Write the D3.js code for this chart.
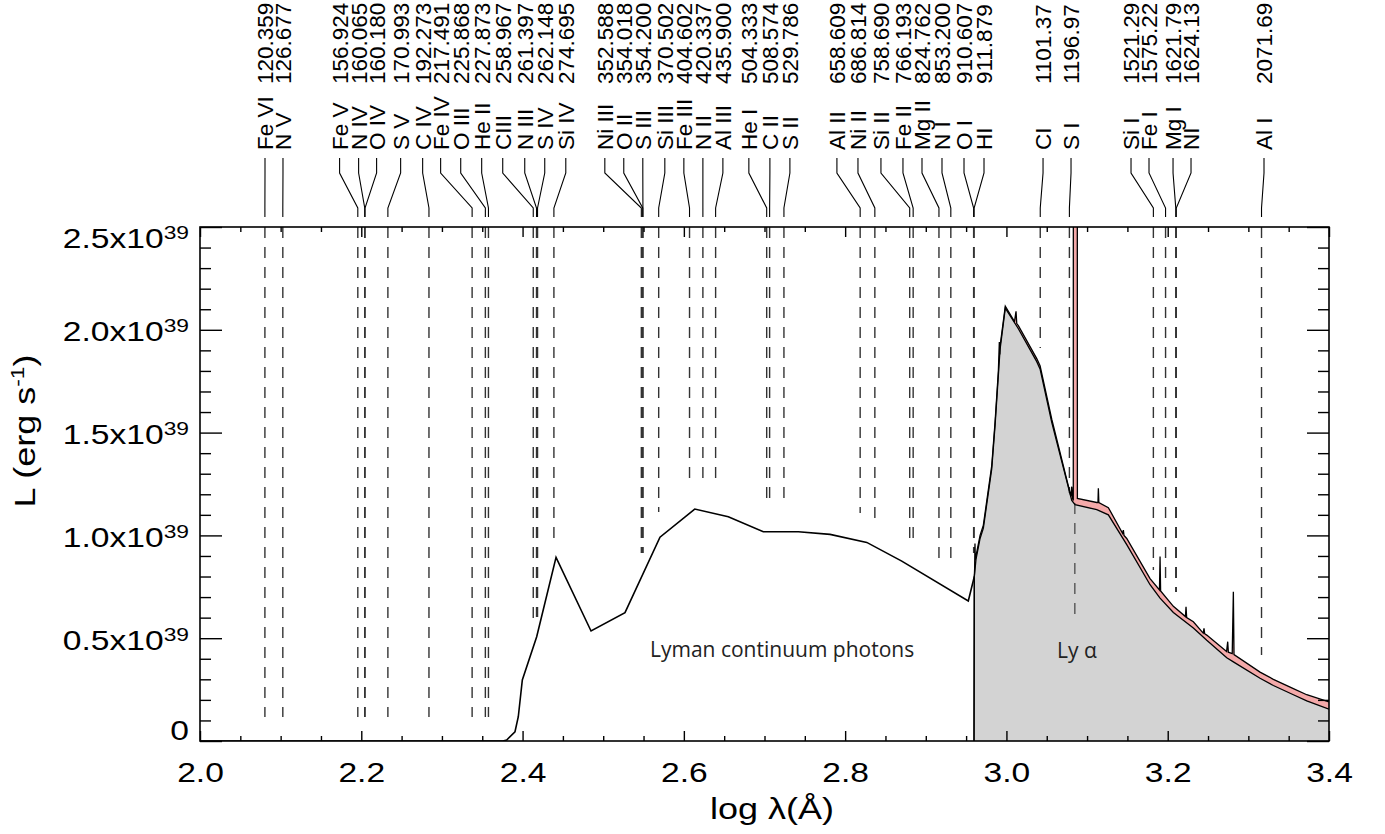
<!DOCTYPE html>
<html><head><meta charset="utf-8">
<script src="https://cdn.jsdelivr.net/npm/d3@7"></script>
<style>body{margin:0;background:#fff} svg{display:block}</style>
</head><body>
<svg id="c" width="1385" height="834"></svg>
<script>
// ---------------- data ----------------
const xTickValues = [2.0, 2.2, 2.4, 2.6, 2.8, 3.0, 3.2, 3.4];
const xTickLabels = ["2.0", "2.2", "2.4", "2.6", "2.8", "3.0", "3.2", "3.4"];
const yTickValues = [0, 0.5, 1.0, 1.5, 2.0, 2.5];
const yTickLabels = ["0", "0.5x10", "1.0x10", "1.5x10", "2.0x10", "2.5x10"];
const yTickExp = ["", "39", "39", "39", "39", "39"];

// Lyman continuum curve (log lambda, L in 1e39 erg/s)
const lymanLogLam = [2.0, 2.370, 2.3757, 2.3803, 2.3906, 2.3947, 2.3997, 2.4175, 2.4415, 2.4849, 2.5270, 2.5704, 2.6135, 2.6551, 2.6985, 2.7420, 2.7813, 2.8268, 2.8702, 2.9527, 2.9602];
const lymanL      = [0,   0,     0,      0.005,  0.045,  0.118,  0.297,  0.507,  0.893,  0.535,  0.624,  0.991,  1.128,  1.091,  1.018,  1.018,  1.005,  0.966,  0.875,  0.681,  0.800];

// continuum longward of 912 A (grey area)
const contLogLam = [2.9598, 2.9602, 2.9623, 2.9673, 2.9714, 2.9818, 2.9859, 2.9921, 2.9986, 3.0148, 3.0376, 3.0417, 3.0562, 3.0810, 3.0851, 3.1120, 3.1264, 3.1492, 3.1781, 3.1905, 3.2070, 3.2318, 3.2484, 3.2732, 3.2814, 3.3145, 3.3310, 3.3558, 3.3724, 3.4];
const contL      = [0,      0.80,   0.885,  0.985,  1.035,  1.325,  1.535,  1.905,  2.105,  2.005,  1.845,  1.810,  1.550,  1.170,  1.150,  1.125,  1.100,  0.955,  0.760,  0.695,  0.625,  0.550,  0.490,  0.405,  0.385,  0.305,  0.270,  0.225,  0.195,  0.155];

// continuum + emission lines (pink area)
const linesLogLam = [2.9598, 2.9602, 2.9606, 2.9610, 2.9614, 2.9623, 2.9673, 2.9714, 2.9818, 2.9859, 2.9900, 2.9912, 2.9918, 2.9921, 2.9986, 3.0100, 3.0119, 3.0128, 3.0148, 3.0376, 3.0417, 3.0562, 3.0800, 3.0810, 3.0820, 3.0829, 3.0831, 3.0877, 3.0880, 3.1120, 3.1135, 3.1140, 3.1146, 3.1264, 3.1440, 3.1450, 3.1458, 3.1492, 3.1781, 3.1898, 3.1905, 3.1912, 3.2070, 3.2220, 3.2227, 3.2235, 3.2318, 3.2440, 3.2450, 3.2458, 3.2484, 3.2730, 3.2744, 3.2752, 3.2800, 3.2814, 3.2822, 3.3145, 3.3310, 3.3558, 3.3724, 3.4];
const linesL      = [0,      0.80,   0.84,   0.96,   0.88,   0.90,   1.00,   1.05,   1.34,   1.55,   1.80,   1.94,   1.88,   1.92,   2.115,  2.04,   2.09,   2.03,   2.02,   1.86,   1.825,  1.565,  1.19,   1.237,  1.18,   1.17,   6.0,    6.0,    1.18,   1.16,   1.16,   1.229,  1.16,   1.135,  1.01,   1.026,  1.0,    0.985,  0.79,   0.735,  0.897,  0.73,   0.655,  0.605,  0.653,  0.60,   0.58,   0.525,  0.548,  0.522,  0.515,  0.435,  0.483,  0.432,  0.425,  0.726,  0.42,   0.335,  0.30,   0.255,  0.225,  0.19];

// identified lines
const lineIon = ["Fe VI","N V","Fe V","N IV","O IV","S V","C IV","Fe IV","O III","He II","CIII","N III","S IV","Si IV","Ni III","O II","S III","Si III","Fe III","N II","Al III","He I","C II","S II","Al II","Ni II","Si II","Fe II","Mg II","N I","O I","HI","CI","S I","Si I","Fe I","Mg I","NI","Al I"];
const lineWave = ["120.359","126.677","156.924","160.065","160.180","170.993","192.273","217.491","225.868","227.873","258.967","261.397","262.148","274.695","352.588","354.018","354.200","370.502","404.602","420.337","435.900","504.333","508.574","529.786","658.609","686.814","758.690","766.193","824.762","853.200","910.607","911.879","1101.37","1196.97","1521.29","1575.22","1621.79","1624.13","2071.69"];
// label column positions (in log lambda units of the x axis)
const lineLabelPos = [2.0806,2.1029,2.1731,2.1967,2.2190,2.2488,2.2761,2.2984,2.3233,2.3493,2.3754,2.4027,2.4275,2.4536,2.5020,2.5255,2.5491,2.5764,2.6000,2.6236,2.6484,2.6806,2.7067,2.7315,2.7898,2.8159,2.8444,2.8717,2.8953,2.9201,2.9474,2.9722,3.0454,3.0801,3.1545,3.1768,3.2066,3.2289,3.3194];
// lower end of the dashed marker lines (1e39 erg/s)
const lineDashEnd = [0.117,0.117,0.117,0.117,0.117,0.117,0.117,0.117,0.117,0.117,0.555,0.603,0.603,0.978,0.914,0.914,0.914,1.114,1.245,1.245,1.245,1.148,1.148,1.148,1.109,1.070,0.963,0.963,0.890,0.856,0.914,0.914,1.911,1.206,0.832,0.783,0.725,0.725,0.418];

const lyaWave = 1215.67;
const lyaDash = [1.158, 0.574];

// ---------------- drawing ----------------
const svg = d3.select("#c");
const PL = 200, PR = 1329, PT = 227, PB = 741;
const x = d3.scaleLinear().domain([2.0, 3.4]).range([PL, PR]);
const y = d3.scaleLinear().domain([0, 2.5]).range([PB, PT]);
const FONT = "'Liberation Sans', Arial, Helvetica, sans-serif";
const STRETCH = 1.2;

svg.append("defs").append("clipPath").attr("id", "plotclip")
  .append("rect").attr("x", PL).attr("y", PT).attr("width", PR - PL).attr("height", PB - PT);

const plot = svg.append("g").attr("clip-path", "url(#plotclip)");

const zip = (a, b) => a.map((v, i) => [v, b[i]]);
const contPts = zip(contLogLam, contL);
const linesPts = zip(linesLogLam, linesL);
const lymanPts = zip(lymanLogLam, lymanL);

const area = d3.area().x(d => x(d[0])).y0(y(0)).y1(d => y(d[1]));
const line = d3.line().x(d => x(d[0])).y(d => y(d[1]));

plot.append("path").attr("d", area(linesPts)).attr("fill", "#f4a9a9").attr("stroke", "none");
plot.append("path").attr("d", area(contPts)).attr("fill", "#d3d3d3").attr("stroke", "none");

// dashed marker lines
const lineLogLam = lineWave.map(w => Math.log10(+w));
plot.selectAll("line.mark").data(lineLogLam).enter().append("line")
  .attr("class", "mark")
  .attr("x1", d => x(d)).attr("x2", d => x(d))
  .attr("y1", y(2.5)).attr("y2", (d, i) => y(lineDashEnd[i]))
  .attr("stroke", "#333").attr("stroke-width", 1.4).attr("stroke-dasharray", "11,9");
plot.append("line")
  .attr("x1", x(Math.log10(lyaWave))).attr("x2", x(Math.log10(lyaWave)))
  .attr("y1", y(lyaDash[0])).attr("y2", y(lyaDash[1]))
  .attr("stroke", "#555").attr("stroke-width", 1.4).attr("stroke-dasharray", "11,9");

// outlines
plot.append("path").attr("d", line(linesPts)).attr("fill", "none").attr("stroke", "#000").attr("stroke-width", 1.3);
plot.append("path").attr("d", line(contPts)).attr("fill", "none").attr("stroke", "#000").attr("stroke-width", 1.3);
plot.append("path").attr("d", line(lymanPts)).attr("fill", "none").attr("stroke", "#000").attr("stroke-width", 1.6);

// frame
svg.append("rect").attr("x", PL).attr("y", PT).attr("width", PR - PL).attr("height", PB - PT)
  .attr("fill", "none").attr("stroke", "#000").attr("stroke-width", 1.6);

// ticks
const xMinor = d3.range(2.0, 3.4001, 0.05).filter(v => Math.abs(v * 5 - Math.round(v * 5)) > 1e-6);
const yMinor = d3.range(0, 2.5001, 0.1).filter(v => Math.abs(v * 2 - Math.round(v * 2)) > 1e-6);
function styleAxis(g) { g.select(".domain").remove(); g.selectAll("line").attr("stroke", "#000").attr("stroke-width", 1.4); }
svg.append("g").attr("transform", `translate(0,${PB})`).call(d3.axisBottom(x).tickValues(xTickValues).tickSize(-10).tickFormat("")).call(styleAxis);
svg.append("g").attr("transform", `translate(0,${PB})`).call(d3.axisBottom(x).tickValues(xMinor).tickSize(-5).tickFormat("")).call(styleAxis);
svg.append("g").attr("transform", `translate(0,${PT})`).call(d3.axisTop(x).tickValues(xTickValues).tickSize(-10).tickFormat("")).call(styleAxis);
svg.append("g").attr("transform", `translate(0,${PT})`).call(d3.axisTop(x).tickValues(xMinor).tickSize(-5).tickFormat("")).call(styleAxis);
svg.append("g").attr("transform", `translate(${PL},0)`).call(d3.axisLeft(y).tickValues(yTickValues).tickSize(-22).tickFormat("")).call(styleAxis);
svg.append("g").attr("transform", `translate(${PL},0)`).call(d3.axisLeft(y).tickValues(yMinor).tickSize(-11).tickFormat("")).call(styleAxis);
svg.append("g").attr("transform", `translate(${PR},0)`).call(d3.axisRight(y).tickValues(yTickValues).tickSize(-22).tickFormat("")).call(styleAxis);
svg.append("g").attr("transform", `translate(${PR},0)`).call(d3.axisRight(y).tickValues(yMinor).tickSize(-11).tickFormat("")).call(styleAxis);

// x tick labels
const xl = svg.append("g").attr("transform", `translate(0,${PB})`)
  .call(d3.axisBottom(x).tickValues(xTickValues).tickSize(0).tickFormat(""));
xl.select(".domain").remove();
xl.selectAll("g.tick").each(function (d, i) {
  d3.select(this).select("text")
    .attr("dy", null).attr("y", null)
    .attr("transform", `translate(0,41) scale(${STRETCH},1)`)
    .attr("font-family", FONT).attr("font-size", 28).attr("fill", "#000")
    .text(xTickLabels[i]);
});

// y tick labels with superscripts
const yl = svg.append("g").attr("transform", `translate(189,0)`)
  .call(d3.axisLeft(y).tickValues(yTickValues).tickSize(0).tickFormat(""));
yl.select(".domain").remove();
yl.selectAll("g.tick").each(function (d, i) {
  const t = d3.select(this).select("text");
  const off = i === 0 ? -2 : (i === 5 ? 20 : 11);
  t.attr("dy", null).attr("x", null).attr("y", null)
   .attr("transform", `translate(0,${off}) scale(${STRETCH},1)`)
   .attr("font-family", FONT).attr("font-size", 28).attr("fill", "#000").attr("text-anchor", "end");
  t.append("tspan").text(yTickLabels[i]);
  if (yTickExp[i]) t.append("tspan").attr("dy", -9).attr("font-size", 19).text(yTickExp[i]);
});

// axis titles
svg.append("text").attr("transform", `translate(772,819) scale(${STRETCH},1)`).attr("text-anchor", "middle")
  .attr("font-family", FONT).attr("font-size", 30).text("log λ(Å)");
const yt = svg.append("text").attr("transform", `translate(35,431) rotate(-90) scale(${STRETCH},1)`).attr("text-anchor", "middle")
  .attr("font-family", FONT).attr("font-size", 30);
yt.append("tspan").text("L (erg s");
yt.append("tspan").attr("dy", -11).attr("font-size", 19).text("-1");
yt.append("tspan").attr("dy", 11).text(")");

// line identification labels and leaders
const lab = svg.append("g").attr("font-family", FONT).attr("font-size", 22.5).attr("fill", "#000");
lineLogLam.forEach((ll, i) => {
  const lx = x(lineLabelPos[i]);
  const px = x(ll);
  lab.append("path")
    .attr("d", d3.line()([[lx, 158], [lx, 173], [px, 208], [px, 217]]))
    .attr("fill", "none").attr("stroke", "#000").attr("stroke-width", 1.1);
  lab.append("text").attr("transform", `translate(${lx + 8},150) rotate(-90)`).text(lineIon[i]);
  lab.append("text").attr("transform", `translate(${lx + 8},84) rotate(-90)`).text(lineWave[i]);
});

// annotations
svg.append("text").attr("x", 650).attr("y", 657).attr("font-family", "'Open Sans', sans-serif")
  .attr("font-size", 21).attr("fill", "#222").text("Lyman continuum photons");
svg.append("text").attr("x", 1057).attr("y", 658).attr("font-family", "'Open Sans', sans-serif")
  .attr("font-size", 21).attr("fill", "#222").text("Ly α");
</script>
</body></html>
